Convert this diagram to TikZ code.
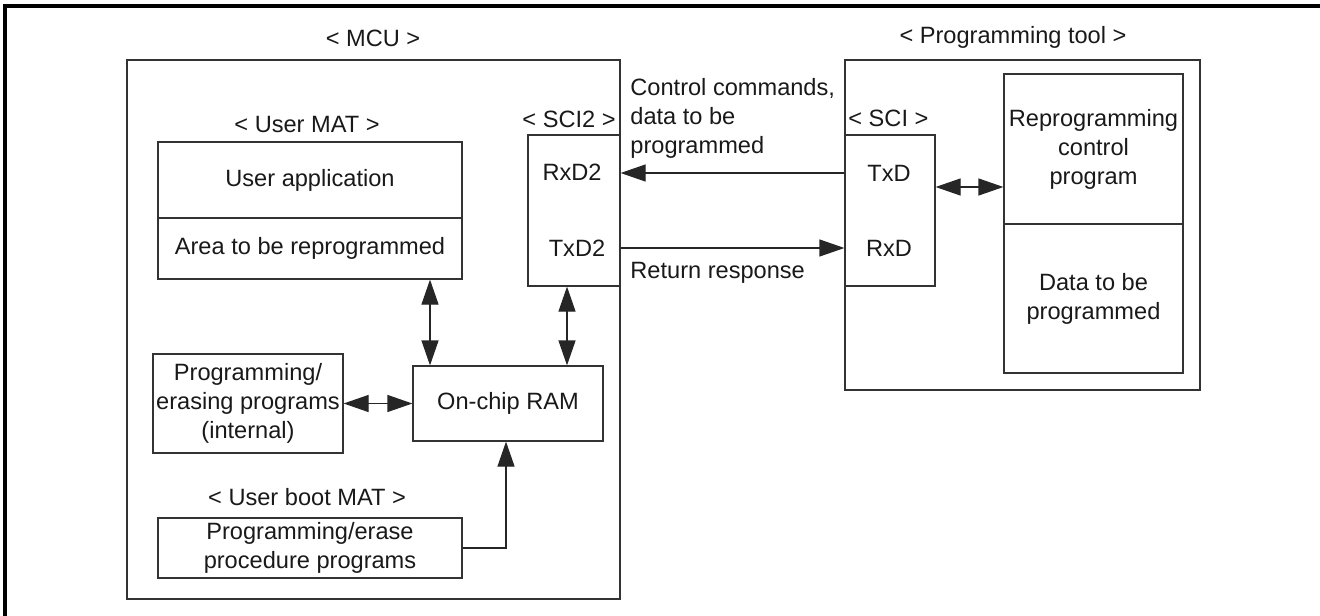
\documentclass[tikz,border=0pt]{standalone}
\usepackage{fontspec}
\setmainfont{Liberation Sans}
\usetikzlibrary{arrows.meta}
\begin{document}
\begin{tikzpicture}[x=0.5pt,y=-0.5pt,
  every node/.style={font=\fontsize{11.8pt}{14.5pt}\selectfont, text=black!90},
  box/.style={draw=black!80, line width=0.6pt, inner sep=0pt, align=center},
  lbl/.style={inner sep=0pt, align=center},
  arr/.style={draw=black!85, line width=0.6pt, -{Triangle[length=12.5pt,width=8.5pt]}},
  darr/.style={draw=black!85, line width=0.6pt, {Triangle[length=12.5pt,width=8.5pt]}-{Triangle[length=12.5pt,width=8.5pt]}},
  frame/.style={line width=1.6pt, black}]
\useasboundingbox (0,0) rectangle (1320,615);
\draw[frame] (5,616) -- (5,6) -- (1321,6);

% MCU
\node[lbl] (mculbl) at (373,38) {< MCU >};
\node[box, minimum width=246.5pt, minimum height=269.5pt] (mcu) at (373.5,329.5) {};
\node[lbl] (umatlbl) at (307,124) {< User MAT >};
\node[box, minimum width=152pt, minimum height=38pt] (uapp) at (310,180) {User application};
\node[box, minimum width=152pt, minimum height=30.5pt] (area) at (310,248.5) {Area to be reprogrammed};
\node[lbl, anchor=east] (sci2lbl) at (616,119) {< SCI2 >};
\node[box, minimum width=46pt, minimum height=75.5pt] (sci2) at (574,210.5) {};
\node[lbl] (rxd2) at (572,172) {RxD2};
\node[lbl] (txd2) at (577,248) {TxD2};
\node[box, minimum width=95pt, minimum height=49.5pt] (pe) at (248,403.5) {Programming/\\erasing programs\\(internal)};
\node[box, minimum width=95pt, minimum height=37.5pt] (ram) at (508,403.5) {On-chip RAM};
\node[lbl] (ubootlbl) at (307,497) {< User boot MAT >};
\node[box, minimum width=152pt, minimum height=30pt] (boot) at (310,548) {Programming/erase\\procedure programs};

% Programming tool
\node[lbl] (ptlbl) at (1013,37) {< Programming tool >};
\node[box, minimum width=177.5pt, minimum height=165pt] (pt) at (1022.5,225) {};
\node[lbl, anchor=west] (scilbl) at (848,118) {< SCI >};
\node[box, minimum width=45pt, minimum height=75.5pt] (sci) at (890,210.5) {};
\node[lbl] (txd) at (889,173) {TxD};
\node[lbl] (rxd) at (889,248) {RxD};
\node[box, minimum width=89.5pt, minimum height=75pt] (rpc) at (1093.5,149) {Reprogramming\\control\\program};
\node[box, minimum width=89.5pt, minimum height=74.5pt] (dtp) at (1093.5,298.5) {Data to be\\programmed};

% labels on links
\node[lbl, anchor=west, align=left] (cmdlbl) at (630,118) {Control commands,\\data to be\\programmed};
\node[lbl, anchor=west] (retlbl) at (630,273) {Return response};

% connectors
\coordinate (y187) at (0,187);
\coordinate (x430) at (430,0);
\coordinate (x567) at (567,0);
\coordinate (x506) at (506,0);
\draw[arr] (sci.west |- txd) -- (sci2.east |- txd);
\draw[arr] (sci2.east |- txd2) -- (sci.west |- rxd);
\draw[darr] (sci.east |- y187) -- (rpc.west |- y187);
\draw[darr] (area.south -| x430) -- (ram.north -| x430);
\draw[darr] (sci2.south -| x567) -- (ram.north -| x567);
\draw[darr] (pe.east) -- (ram.west);
\draw[arr] (boot.east) -| (ram.south -| x506);
\end{tikzpicture}
\end{document}
